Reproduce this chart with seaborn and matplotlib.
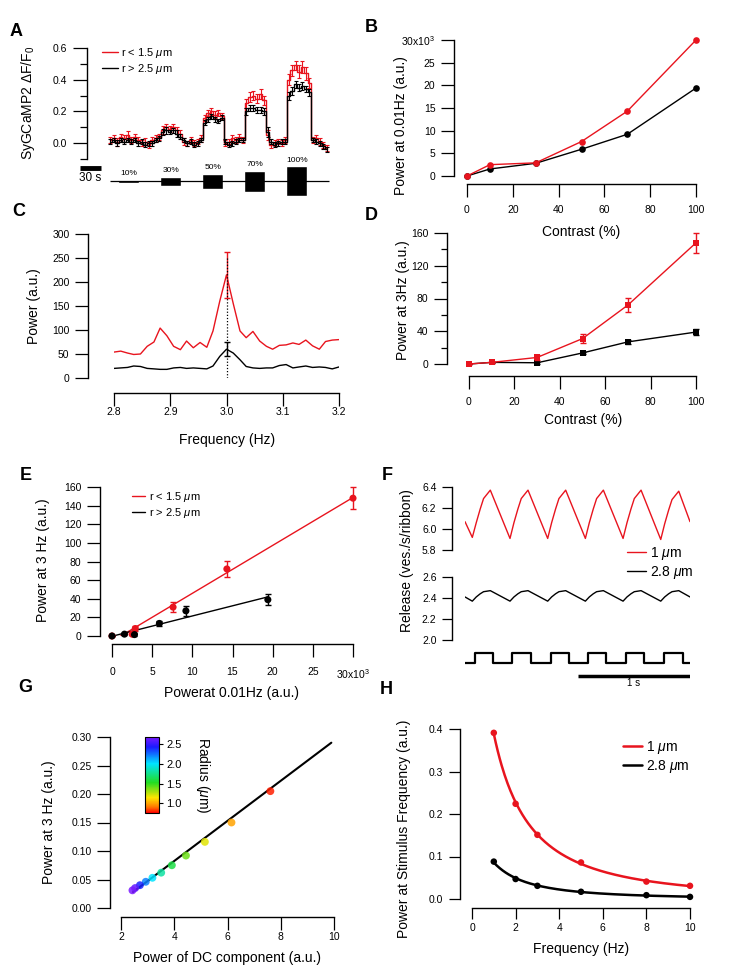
import numpy as np
import matplotlib
matplotlib.use('Agg')
import matplotlib.pyplot as plt
import seaborn as sns
from matplotlib.colors import LinearSegmentedColormap, Normalize
from matplotlib.cm import ScalarMappable
from matplotlib.lines import Line2D
from matplotlib.ticker import MultipleLocator

# ---------------- data ----------------
# A: SyGCaMP2 responses to contrast steps (time in s)
a_time = [0, 5, 10, 15, 20, 25, 30, 35, 40, 45,
          50, 55, 60, 65, 70, 75, 80, 85, 90, 95,
          100, 105, 110, 115, 120, 125, 130, 135, 140, 145,
          150, 155, 160, 165, 170, 175, 180, 185, 190, 195,
          200, 205, 210, 215, 220, 225, 230, 235, 240, 245,
          250, 255, 260, 265, 270, 275, 280, 285, 290, 295,
          300, 305, 310]
a_red = [0.02, 0.03, 0.01, 0.04, 0.03, 0.05, 0.02, 0.04, 0.02, 0.00,
         0.01, -0.01, 0.02, 0.03, 0.04, 0.08, 0.10, 0.09, 0.10, 0.08,
         0.06, 0.01, 0.00, 0.02, 0.00, 0.01, 0.03, 0.16, 0.19, 0.20,
         0.18, 0.19, 0.17, 0.00, 0.01, 0.03, 0.02, 0.04, 0.02, 0.25,
         0.29, 0.30, 0.28, 0.31, 0.27, 0.05, -0.01, 0.00, 0.01, 0.00,
         0.02, 0.40, 0.46, 0.49, 0.45, 0.48, 0.44, 0.38, 0.02, 0.03,
         0.01, -0.01, -0.03]
a_red_err = [0.02, 0.02, 0.025, 0.02, 0.02, 0.025, 0.02, 0.02, 0.02, 0.02,
             0.02, 0.02, 0.02, 0.02, 0.02, 0.025, 0.02, 0.02, 0.02, 0.02,
             0.02, 0.02, 0.015, 0.02, 0.02, 0.015, 0.02, 0.02, 0.02, 0.02,
             0.02, 0.02, 0.02, 0.02, 0.015, 0.02, 0.02, 0.02, 0.02, 0.03,
             0.03, 0.03, 0.03, 0.03, 0.03, 0.03, 0.02, 0.02, 0.015, 0.02,
             0.02, 0.035, 0.035, 0.03, 0.04, 0.035, 0.04, 0.03, 0.02, 0.02,
             0.02, 0.02, 0.02]
a_black = [0.01, 0.02, 0.00, 0.02, 0.01, 0.02, 0.01, 0.02, 0.00, 0.01,
           -0.01, 0.00, 0.00, 0.02, 0.03, 0.07, 0.08, 0.07, 0.08, 0.06,
           0.04, 0.02, 0.00, 0.01, -0.01, 0.00, 0.02, 0.13, 0.15, 0.17,
           0.15, 0.14, 0.16, 0.01, -0.01, 0.00, 0.01, 0.02, 0.02, 0.20,
           0.22, 0.22, 0.21, 0.21, 0.20, 0.07, 0.01, -0.01, 0.00, 0.01,
           0.01, 0.30, 0.33, 0.37, 0.35, 0.36, 0.34, 0.32, 0.02, 0.01,
           0.00, -0.02, -0.04]
a_black_err = [0.015, 0.015, 0.02, 0.015, 0.015, 0.015, 0.015, 0.015, 0.015, 0.015,
               0.015, 0.015, 0.015, 0.015, 0.015, 0.02, 0.02, 0.015, 0.015, 0.02,
               0.015, 0.015, 0.015, 0.015, 0.015, 0.015, 0.015, 0.015, 0.015, 0.015,
               0.015, 0.015, 0.015, 0.015, 0.015, 0.015, 0.015, 0.015, 0.015, 0.02,
               0.02, 0.02, 0.02, 0.02, 0.02, 0.03, 0.015, 0.015, 0.015, 0.015,
               0.015, 0.025, 0.025, 0.02, 0.02, 0.025, 0.02, 0.02, 0.015, 0.015,
               0.015, 0.015, 0.015]
a_stim_onset = [12, 72, 132, 192, 252]
a_stim_contrast = [10, 30, 50, 70, 100]
a_stim_labels = ['10%', '30%', '50%', '70%', '100%']
a_stim_dur = 30

# B, D, E: contrast series
contrast = [0, 10, 30, 50, 70, 100]
b_red = [0, 2.5, 2.9, 7.6, 14.3, 30.0]       # x10^3
b_black = [0, 1.55, 2.8, 5.9, 9.2, 19.4]
d_red = [0, 2, 8, 31, 72, 148]
d_red_err = [0.5, 1, 3, 5.5, 8.5, 12]
d_black = [0, 2, 1.5, 13.5, 27, 39]
d_black_err = [0.5, 0.5, 1, 1.5, 2, 3.5]
e_black_err = [0.5, 1, 1.5, 3, 5, 6]

# C: power spectrum around 3 Hz
c_freq = [2.800, 2.812, 2.824, 2.835, 2.847, 2.859, 2.871, 2.882, 2.894, 2.906,
          2.918, 2.929, 2.941, 2.953, 2.965, 2.976, 2.988, 3.000, 3.012, 3.024,
          3.035, 3.047, 3.059, 3.071, 3.082, 3.094, 3.106, 3.118, 3.129, 3.141,
          3.153, 3.165, 3.176, 3.188, 3.200]
c_red = [54, 56, 52, 49, 50, 66, 75, 104, 88, 66,
         59, 77, 63, 74, 64, 98, 160, 215, 155, 98,
         84, 97, 77, 66, 60, 68, 69, 73, 70, 79,
         67, 60, 76, 79, 80]
c_black = [20, 21, 22, 25, 24, 20, 19, 18, 18, 21,
           22, 20, 21, 20, 19, 25, 45, 60, 52, 38,
           24, 21, 20, 21, 21, 26, 28, 21, 23, 25,
           22, 23, 22, 19, 23]
c_peak_freq = 3.0
c_red_peak_err = 48
c_black_peak_err = 14
c_marker_top = 250

# F: modelled release (time in s)
f_time = [0.000,
          0.065, 0.100, 0.135, 0.165, 0.225,
          0.400, 0.435, 0.470, 0.500, 0.560,
          0.735, 0.770, 0.805, 0.835, 0.895,
          1.070, 1.105, 1.140, 1.170, 1.230,
          1.405, 1.440, 1.475, 1.505, 1.565,
          1.740, 1.775, 1.810, 1.840, 1.900,
          2.000]
f_red = [6.07,
         5.92, 6.06, 6.19, 6.29, 6.37,
         5.91, 6.06, 6.19, 6.29, 6.37,
         5.91, 6.06, 6.19, 6.29, 6.37,
         5.91, 6.06, 6.19, 6.29, 6.37,
         5.91, 6.06, 6.19, 6.29, 6.37,
         5.90, 6.05, 6.18, 6.28, 6.36,
         6.07]
f_black = [2.41,
           2.37, 2.41, 2.44, 2.46, 2.47,
           2.37, 2.41, 2.44, 2.46, 2.47,
           2.37, 2.41, 2.44, 2.46, 2.47,
           2.37, 2.41, 2.44, 2.46, 2.47,
           2.37, 2.41, 2.44, 2.46, 2.47,
           2.37, 2.41, 2.44, 2.46, 2.47,
           2.41]
f_stim_time = [0.0, 0.089, 0.253, 0.42, 0.586, 0.76, 0.92, 1.09, 1.25, 1.43, 1.595, 1.765, 1.935, 2.0]
f_stim_level = [0, 1, 0, 1, 0, 1, 0, 1, 0, 1, 0, 1, 0, 0]

# G: 3 Hz power vs DC power, coloured by radius
g_dc = [7.61, 6.15, 5.15, 4.44, 3.91, 3.51, 3.18, 2.93, 2.71, 2.53, 2.43]
g_p3 = [0.205, 0.150, 0.116, 0.092, 0.075, 0.062, 0.053, 0.046, 0.040, 0.035, 0.031]
g_radius = [0.8, 1.0, 1.2, 1.4, 1.6, 1.8, 2.0, 2.2, 2.4, 2.6, 2.8]
g_fit_x = [2.45, 9.9]
g_fit_y = [0.028, 0.290]

# H: power at stimulus frequency
h_freq = [1, 2, 3, 5, 8, 10]
h_red = [0.391, 0.224, 0.151, 0.086, 0.041, 0.031]
h_black = [0.088, 0.047, 0.031, 0.017, 0.009, 0.005]

# ---------------- style ----------------
RED = '#e8141e'
BLACK = '#000000'
W, H = 729, 965
PT = 72 / 100  # points per pixel

sns.set_theme(style='ticks')
plt.rcParams['font.family'] = ['Liberation Sans', 'DejaVu Sans']
plt.rcParams['mathtext.fontset'] = 'custom'
plt.rcParams['mathtext.rm'] = 'Liberation Sans'
plt.rcParams['mathtext.it'] = 'Liberation Sans:italic'
for key in ['text.color', 'axes.labelcolor', 'xtick.color', 'ytick.color', 'axes.edgecolor']:
    plt.rcParams[key] = 'black'
plt.rcParams['axes.linewidth'] = 1.0

fig = plt.figure(figsize=(W / 100, H / 100), dpi=100)


def add_axes_px(left, top, right, bottom):
    return fig.add_axes([left / W, 1 - bottom / H, (right - left) / W, (bottom - top) / H])


def igor_axes(ax, left_gap, bottom_gap=None, tick_len=13, xpad=6, ypad=4):
    for side in ('top', 'right'):
        ax.spines[side].set_visible(False)
    ax.spines['left'].set_position(('outward', left_gap * PT))
    if bottom_gap is None:
        ax.spines['bottom'].set_visible(False)
        ax.tick_params(axis='x', which='both', bottom=False, labelbottom=False)
    else:
        ax.spines['bottom'].set_position(('outward', bottom_gap * PT))
    ax.tick_params(which='major', length=tick_len * PT, width=0.9, labelsize=7.5, direction='out')
    ax.tick_params(which='minor', length=tick_len * PT * 0.5, width=0.9, direction='out')
    ax.tick_params(axis='x', pad=xpad)
    ax.tick_params(axis='y', pad=ypad)
    ax.patch.set_alpha(0)
    ax.grid(False)


def label_at(axis, text, x, y, size=10):
    axis.set_label_text(text, fontsize=size)
    axis.label.set_va('center')
    axis.label.set_ha('center')
    axis.set_label_coords(x / W, 1 - y / H, transform=fig.transFigure)


def legend_at(ax, handles, x, y, size, hl):
    ax.legend(handles=handles, loc='upper left', bbox_to_anchor=(x / W, 1 - y / H),
              bbox_transform=fig.transFigure, frameon=False, fontsize=size,
              handlelength=hl, handletextpad=0.3, labelspacing=0.15,
              borderpad=0, borderaxespad=0)


# ---------------- A ----------------
A_X0, A_PXS = 110, 0.7   # pixel of t=0, pixels per second
axA = add_axes_px(87, 48, 335, 159)
sns.lineplot(x=a_time, y=a_red, color=RED, lw=1, drawstyle='steps-mid', ax=axA)
axA.errorbar(a_time, a_red, yerr=a_red_err, fmt='none', ecolor=RED, elinewidth=0.8,
             capsize=1.5, capthick=0.8)
sns.lineplot(x=a_time, y=a_black, color=BLACK, lw=1, drawstyle='steps-mid', ax=axA)
axA.errorbar(a_time, a_black, yerr=a_black_err, fmt='none', ecolor=BLACK, elinewidth=0.8,
             capsize=1.5, capthick=0.8)
axA.set_xlim((87 - A_X0) / A_PXS, (335 - A_X0) / A_PXS)
axA.set_ylim(-0.1, 0.6)
axA.set_yticks([0.0, 0.2, 0.4, 0.6])
axA.set_yticklabels(['0.0', '0.2', '0.4', '0.6'])
axA.yaxis.set_minor_locator(MultipleLocator(0.1))
igor_axes(axA, 0, None, tick_len=14)
label_at(axA.yaxis, 'SyGCaMP2 ΔF/F$_0$', 28, 103)
legend_at(axA, [Line2D([], [], color=RED, lw=1, label='r < 1.5 $\\mu$m'),
                Line2D([], [], color=BLACK, lw=1, label='r > 2.5 $\\mu$m')],
          102, 46, 8, 1.45)

axAs = add_axes_px(87, 160, 335, 200)
axAs.set_xlim(axA.get_xlim())
axAs.set_ylim(-63.3, 70)
axAs.axis('off')
axAs.hlines(0, a_time[0], a_time[-1] + 3, color='black', lw=0.9)
axAs.bar(a_stim_onset, a_stim_contrast, width=a_stim_dur,
         bottom=[-c / 2 for c in a_stim_contrast], align='edge', color='black')
for on, c, lab in zip(a_stim_onset, a_stim_contrast, a_stim_labels):
    axAs.annotate(lab, (on + a_stim_dur / 2, c / 2), xytext=(0, 1.5), textcoords='offset points',
                  ha='center', va='bottom', fontsize=6)
axAs.plot([-43, -13], [43, 43], color='black', lw=3.5, solid_capstyle='butt', clip_on=False)
axAs.text(-28, 10, '30 s', ha='center', va='center', fontsize=8.5, clip_on=False)

# ---------------- B ----------------
axB = add_axes_px(467, 40, 696, 176)
sns.lineplot(x=contrast, y=b_black, color=BLACK, lw=1, marker='o', markersize=4.8,
             markeredgewidth=0, clip_on=False, ax=axB)
sns.lineplot(x=contrast, y=b_red, color=RED, lw=1, marker='o', markersize=4.8,
             markeredgewidth=0, clip_on=False, ax=axB)
axB.set_xlim(0, 100)
axB.set_ylim(0, 30)
axB.set_xticks([0, 20, 40, 60, 80, 100])
axB.set_yticks([0, 5, 10, 15, 20, 25, 30])
axB.set_yticklabels(['0', '5', '10', '15', '20', '25', '30x10$^3$'])
igor_axes(axB, 13, 8, xpad=6)
label_at(axB.yaxis, 'Power at 0.01Hz (a.u.)', 401, 126)
label_at(axB.xaxis, 'Contrast (%)', 581, 232)

# ---------------- C ----------------
axC = add_axes_px(114, 234, 339, 378)
peak = c_freq.index(c_peak_freq)
sns.lineplot(x=c_freq, y=c_red, color=RED, lw=1, ax=axC)
sns.lineplot(x=c_freq, y=c_black, color=BLACK, lw=1, ax=axC)
axC.errorbar(c_peak_freq, c_red[peak], yerr=c_red_peak_err, fmt='none', ecolor=RED,
             elinewidth=1, capsize=2.2, capthick=1)
axC.errorbar(c_peak_freq, c_black[peak], yerr=c_black_peak_err, fmt='none', ecolor=BLACK,
             elinewidth=1, capsize=2.2, capthick=1)
axC.vlines(c_peak_freq, 0, c_marker_top, colors='black', linestyles=(0, (1, 1.5)), lw=0.9)
axC.set_xlim(2.8, 3.2)
axC.set_ylim(0, 300)
axC.set_xticks([2.8, 2.9, 3.0, 3.1, 3.2])
axC.set_xticklabels(['2.8', '2.9', '3.0', '3.1', '3.2'])
axC.set_yticks([0, 50, 100, 150, 200, 250, 300])
igor_axes(axC, 26, 15, xpad=1)
label_at(axC.yaxis, 'Power (a.u.)', 34, 306)
label_at(axC.xaxis, 'Frequency (Hz)', 227, 440)

# ---------------- D ----------------
axD = add_axes_px(469, 233, 696, 364)
axD.errorbar(contrast, d_black, yerr=d_black_err, fmt='none', ecolor=BLACK, elinewidth=1,
             capsize=2.2, capthick=1, clip_on=False)
sns.lineplot(x=contrast, y=d_black, color=BLACK, lw=1, marker='s', markersize=3.8,
             markeredgewidth=0, clip_on=False, ax=axD)
axD.errorbar(contrast, d_red, yerr=d_red_err, fmt='none', ecolor=RED, elinewidth=1,
             capsize=2.2, capthick=1, clip_on=False)
sns.lineplot(x=contrast, y=d_red, color=RED, lw=1, marker='s', markersize=3.8,
             markeredgewidth=0, clip_on=False, ax=axD)
axD.set_xlim(0, 100)
axD.set_ylim(0, 160)
axD.set_xticks([0, 20, 40, 60, 80, 100])
axD.set_yticks([0, 40, 80, 120, 160])
axD.yaxis.set_minor_locator(MultipleLocator(20))
igor_axes(axD, 22, 12, xpad=6)
label_at(axD.yaxis, 'Power at 3Hz (a.u.)', 403, 300)
label_at(axD.xaxis, 'Contrast (%)', 583, 420)

# ---------------- E ----------------
axE = add_axes_px(112, 487, 353, 636)
sns.regplot(x=b_red, y=d_red, ci=None, scatter=False, truncate=True, color=RED,
            line_kws=dict(lw=1), ax=axE)
sns.regplot(x=b_black, y=d_black, ci=None, scatter=False, truncate=True, color=BLACK,
            line_kws=dict(lw=1), ax=axE)
axE.errorbar(b_red, d_red, yerr=d_red_err, fmt='none', ecolor=RED, elinewidth=1,
             capsize=2.2, capthick=1, clip_on=False)
axE.errorbar(b_black, d_black, yerr=e_black_err, fmt='none', ecolor=BLACK, elinewidth=1,
             capsize=2.2, capthick=1, clip_on=False)
sns.scatterplot(x=b_red, y=d_red, color=RED, s=26, edgecolor='none', zorder=3,
                clip_on=False, ax=axE)
sns.scatterplot(x=b_black, y=d_black, color=BLACK, s=26, edgecolor='none', zorder=3,
                clip_on=False, ax=axE)
axE.set_xlim(0, 30)
axE.set_ylim(0, 160)
axE.set_xticks([0, 5, 10, 15, 20, 25, 30])
axE.set_xticklabels(['0', '5', '10', '15', '20', '25', '30x10$^3$'])
axE.set_yticks([0, 20, 40, 60, 80, 100, 120, 140, 160])
igor_axes(axE, 12, 8, xpad=7)
label_at(axE.yaxis, 'Power at 3 Hz (a.u.)', 43, 560)
label_at(axE.xaxis, 'Powerat 0.01Hz (a.u.)', 232, 693)
legend_at(axE, [Line2D([], [], color=RED, lw=1, label='r < 1.5 $\\mu$m'),
                Line2D([], [], color=BLACK, lw=1, label='r > 2.5 $\\mu$m')],
          132, 490, 8, 1.2)

# ---------------- F ----------------
axFu = add_axes_px(465, 487, 690, 550)
axFl = add_axes_px(465, 577, 690, 640)
sns.lineplot(x=f_time, y=f_red, color=RED, lw=1, estimator=None, sort=False, ax=axFu)
sns.lineplot(x=f_time, y=f_black, color=BLACK, lw=1, estimator=None, sort=False, ax=axFl)
axFu.set_ylim(5.8, 6.4)
axFl.set_ylim(2.0, 2.6)
axFu.set_yticks([5.8, 6.0, 6.2, 6.4])
axFu.set_yticklabels(['5.8', '6.0', '6.2', '6.4'])
axFl.set_yticks([2.0, 2.2, 2.4, 2.6])
axFl.set_yticklabels(['2.0', '2.2', '2.4', '2.6'])
for ax in (axFu, axFl):
    ax.set_xlim(0, 2.0)
    igor_axes(ax, 13, None, tick_len=10)
    ax.set_xlabel('')
    ax.set_ylabel('')
fig.text(407 / W, 1 - 561 / H, 'Release (ves./s/ribbon)', rotation=90,
         ha='center', va='center', fontsize=10)
legend_at(axFu, [Line2D([], [], color=RED, lw=1, label='1 $\\mu$m'),
                 Line2D([], [], color=BLACK, lw=1, label='2.8 $\\mu$m')],
          627, 545, 10, 1.35)

axFs = add_axes_px(465, 645, 690, 690)
axFs.plot(f_stim_time, f_stim_level, color='black', lw=1.6, drawstyle='steps-post')
axFs.set_xlim(0, 2.0)
axFs.set_ylim(-2.7, 1.8)
axFs.axis('off')
axFs.plot([1.0, 2.0], [-1.3, -1.3], color='black', lw=2.5, solid_capstyle='butt')
axFs.text(1.5, -2.05, '1 s', ha='center', va='center', fontsize=7)

# ---------------- G ----------------
g_cmap = LinearSegmentedColormap.from_list(
    'radius', [(0.0, '#ff0000'), (0.08, '#ff7a00'), (0.2, '#ffe600'), (0.4, '#22dd22'),
               (0.65, '#00e5ff'), (0.87, '#1a1aff'), (1.0, '#7a1aff')])
g_norm = Normalize(0.76, 2.67)
axG = add_axes_px(121, 737, 334, 908)
sns.lineplot(x=g_fit_x, y=g_fit_y, color=BLACK, lw=1.5, ax=axG)
sns.scatterplot(x=g_dc, y=g_p3, hue=g_radius, palette=g_cmap, hue_norm=g_norm, s=32,
                edgecolor='none', alpha=0.85, legend=False, zorder=3, ax=axG)
axG.set_xlim(2, 10)
axG.set_ylim(0, 0.30)
axG.set_xticks([2, 4, 6, 8, 10])
axG.set_yticks([0, 0.05, 0.10, 0.15, 0.20, 0.25, 0.30])
axG.set_yticklabels(['0.00', '0.05', '0.10', '0.15', '0.20', '0.25', '0.30'])
igor_axes(axG, 11, 9, xpad=1.5)
label_at(axG.yaxis, 'Power at 3 Hz (a.u.)', 49, 822)
label_at(axG.xaxis, 'Power of DC component (a.u.)', 227, 958)

caxG = add_axes_px(145, 737, 159, 813)
cb = fig.colorbar(ScalarMappable(norm=g_norm, cmap=g_cmap), cax=caxG)
cb.set_ticks([1.0, 1.5, 2.0, 2.5])
cb.ax.tick_params(labelsize=8, length=3, width=0.8, pad=2)
cb.outline.set_linewidth(0.8)
fig.text(203 / W, 1 - 775 / H, 'Radius ($\\mu$m)', rotation=-90, ha='center', va='center',
         fontsize=10)

# ---------------- H ----------------
axH = add_axes_px(472, 729, 690, 899)
h_grid = np.linspace(min(h_freq), max(h_freq), 200)
for vals, col in ((h_red, RED), (h_black, BLACK)):
    coef = np.polyfit(np.log(h_freq), np.log(vals), 2)
    sns.lineplot(x=h_grid, y=np.exp(np.polyval(coef, np.log(h_grid))), color=col, lw=1.8, ax=axH)
    sns.scatterplot(x=h_freq, y=vals, color=col, s=22, edgecolor='none', zorder=3,
                    clip_on=False, ax=axH)
axH.set_xlim(0, 10)
axH.set_ylim(0, 0.4)
axH.set_xticks([0, 2, 4, 6, 8, 10])
axH.set_yticks([0, 0.1, 0.2, 0.3, 0.4])
axH.set_yticklabels(['0.0', '0.1', '0.2', '0.3', '0.4'])
igor_axes(axH, 12, 9, tick_len=11, xpad=3)
label_at(axH.yaxis, 'Power at Stimulus Frequency (a.u.)', 404, 829)
label_at(axH.xaxis, 'Frequency (Hz)', 581, 949)
legend_at(axH, [Line2D([], [], color=RED, lw=1.8, label='1 $\\mu$m'),
                Line2D([], [], color=BLACK, lw=1.8, label='2.8 $\\mu$m')],
          623, 739, 10, 1.35)

# panel letters
for letter, x, y in [('A', 10, 31), ('B', 365, 28), ('C', 12, 212), ('D', 365, 216),
                     ('E', 20, 476), ('F', 382, 476), ('G', 18, 687), ('H', 380, 689)]:
    fig.text(x / W, 1 - y / H, letter, fontsize=13, fontweight='bold', ha='left', va='center')

fig.savefig('out.png', dpi=100)
